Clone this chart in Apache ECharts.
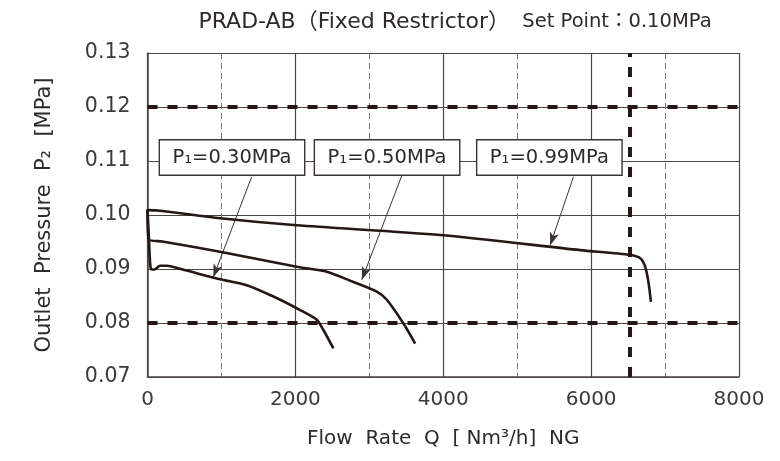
<!DOCTYPE html>
<html>
<head>
<meta charset="utf-8">
<script src="https://cdn.jsdelivr.net/npm/echarts@6/dist/echarts.min.js"></script>
<style>html,body{margin:0;padding:0;background:#fff}#c{width:780px;height:461px}</style>
</head>
<body>
<div id="c"></div>
<script>
// Curves: [flow Q (Nm3/h), outlet pressure P2 (MPa)]
const curveP030 = [[0,0.1010],[20,0.0955],[45,0.0900],[90,0.0899],[170,0.0906],[260,0.0906],[500,0.0898],[981,0.0881],[1342,0.0870],[1703,0.0849],[2064,0.0824],[2290,0.0806],[2379,0.0787],[2514,0.0753]];
const curveP050 = [[0,0.1010],[15,0.0955],[200,0.0951],[981,0.0932],[2019,0.0904],[2425,0.0895],[2785,0.0876],[3101,0.0858],[3237,0.0843],[3462,0.0799],[3620,0.0762]];
const curveP099 = [[0,0.1009],[170,0.1008],[981,0.0994],[2019,0.0981],[3958,0.0963],[5852,0.0935],[6529,0.0926],[6665,0.0920],[6732,0.0904],[6777,0.0874],[6809,0.0839]];
const seriesNames = ['P₁=0.30MPa','P₁=0.50MPa','P₁=0.99MPa'];
// Reference lines
const limitPressures = [0.12, 0.08];
const limitFlow = 6520;
// Label boxes and arrows [x, y]
const labelPos = [[1143,0.11065],[3240,0.11065],[5435,0.11065]];
const arrowStart = [[1410,0.1071],[3440,0.1073],[5762,0.1071]];
const arrowEnd = [[890,0.0885],[2898,0.0880],[5446,0.0944]];
// Axes
const xMin = 0, xMax = 8000, xStep = 2000;
const yMin = 0.07, yMax = 0.13, yStep = 0.01;

const ink = '#231815';
const gridCol = '#4d4545';
const txt = '#2e2a2a';
const font = '"DejaVu Sans", "Noto Sans CJK JP", sans-serif';

const chart = echarts.init(document.getElementById('c'), null, {renderer:'canvas'});
const lineStyle = {color: ink, width: 2.6};
const curves = [curveP030, curveP050, curveP099].map((d, i) => ({
  type: 'line', name: seriesNames[i], data: d, showSymbol: false, symbol: 'none',
  smooth: 0.25, lineStyle: lineStyle, z: 5, silent: true
}));
curves[0].markLine = {
  silent: true, symbol: 'none', animation: false,
  label: {show: false},
  lineStyle: {color: ink, width: 4, type: [10, 10]},
  data: limitPressures.map(p => ({yAxis: p})).concat([{xAxis: limitFlow}])
};
const annot = {
  type: 'scatter', data: labelPos.map((p, i) => [p[0], p[1], seriesNames[i]]),
  symbol: 'circle', symbolSize: 0,
  itemStyle: {color: '#fff', opacity: 1},
  z: 10, silent: true,
  label: {
    show: true, position: 'inside', formatter: p => p.data[2],
    fontFamily: font, fontSize: 19.5, color: txt,
    backgroundColor: '#fff', borderColor: '#3a3333', borderWidth: 1.4,
    width: 130, height: 24, lineHeight: 24, align: 'center', verticalAlign: 'middle',
    padding: [5, 7, 5, 7]
  },
  labelLayout: {hideOverlap: false},
  markLine: {
    silent: true, animation: false, symbol: ['none', 'arrow'], symbolSize: [7, 13],
    label: {show: false},
    lineStyle: {color: '#3a3333', width: 1, type: 'solid', opacity: 1},
    data: arrowStart.map((s, i) => [{coord: s}, {coord: arrowEnd[i]}])
  }
};

chart.setOption({
  animation: false,
  title: {
    text: '{a|PRAD-AB（Fixed Restrictor）}{b|  Set Point：0.10MPa}',
    left: 450, top: 6, textAlign: 'center',
    textStyle: {rich: {
      a: {fontFamily: font, fontSize: 22, fontWeight: 'normal', color: txt},
      b: {fontFamily: font, fontSize: 19.5, fontWeight: 'normal', color: txt}
    }}
  },
  grid: {left: 147.5, right: 41, top: 53, bottom: 84},
  xAxis: {
    type: 'value', min: xMin, max: xMax, interval: xStep,
    name: 'Flow  Rate  Q  [ Nm³/h]  NG', nameLocation: 'middle', nameGap: 52,
    nameTextStyle: {fontFamily: font, fontSize: 20, color: txt},
    axisLine: {show: true, lineStyle: {color: gridCol, width: 1.5}},
    axisTick: {show: false},
    axisLabel: {fontFamily: font, fontSize: 20, color: '#3a3a3a', margin: 13, formatter: v => String(v)},
    splitLine: {show: true, lineStyle: {color: gridCol, width: 1.2}},
    minorTick: {show: false, splitNumber: 2},
    minorSplitLine: {show: true, lineStyle: {color: '#777', width: 1, type: [6, 4]}}
  },
  yAxis: {
    type: 'value', min: yMin, max: yMax, interval: yStep,
    name: 'Outlet  Pressure  P₂  [MPa]', nameLocation: 'middle', nameGap: 92,
    nameTextStyle: {fontFamily: font, fontSize: 21, color: txt},
    axisLine: {show: true, lineStyle: {color: gridCol, width: 1.5}},
    axisTick: {show: false},
    axisLabel: {fontFamily: font, fontSize: 20.5, color: '#3a3a3a', margin: 17, formatter: v => v.toFixed(2)},
    splitLine: {show: true, lineStyle: {color: gridCol, width: 1.2}}
  },
  series: curves.concat([annot])
});
</script>
</body>
</html>
